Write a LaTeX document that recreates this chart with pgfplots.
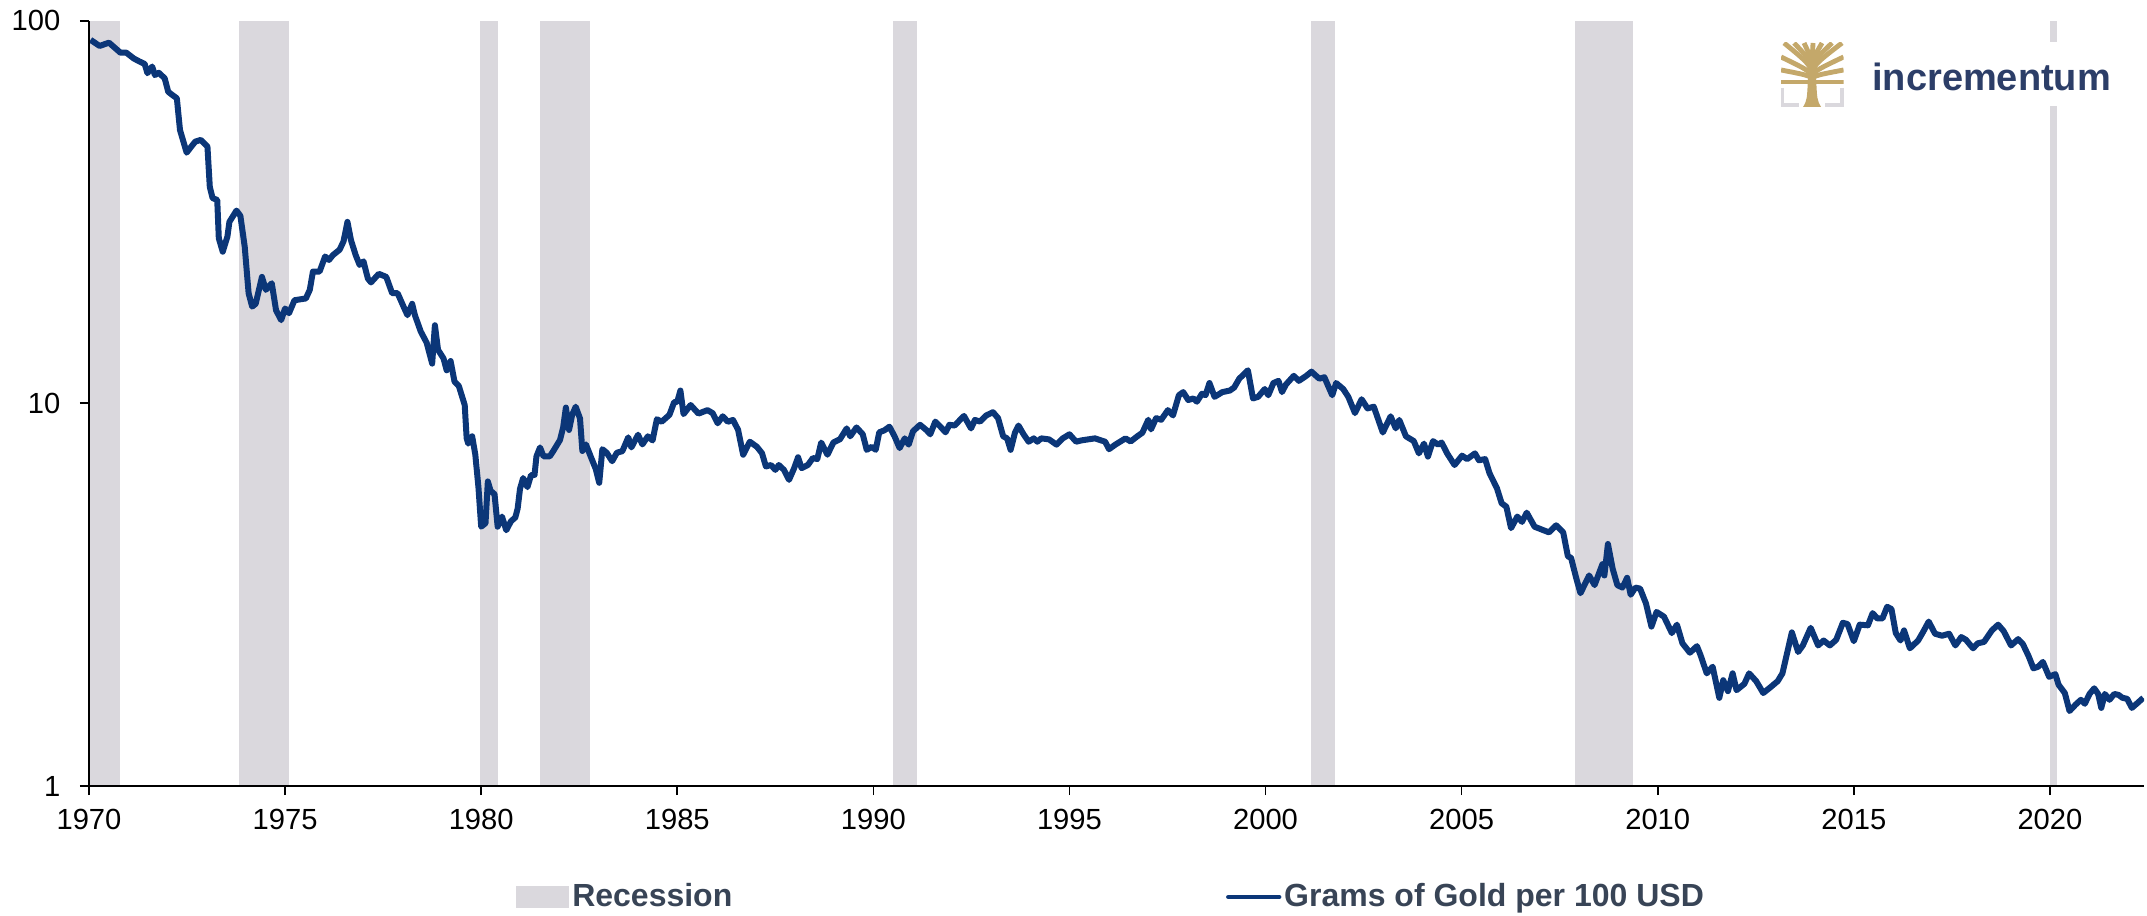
\documentclass[border=0pt]{standalone}
\usepackage{fontspec}
\setmainfont{Liberation Sans}
\usepackage{pgfplots}
\usepackage{pgfplotstable}
\pgfplotsset{compat=1.18}

\definecolor{navyline}{RGB}{11,54,120}
\definecolor{recgray}{RGB}{218,216,221}
\definecolor{legtext}{RGB}{56,68,86}
\definecolor{logoblue}{RGB}{44,62,104}
\definecolor{logogold}{RGB}{196,168,106}

% grams of gold per 100 USD
\pgfplotstableread{
year grams
1970.04 89.1
1970.27 85.9
1970.51 87.6
1970.80 82.5
1970.95 82.5
1971.14 79.7
1971.29 78.2
1971.42 77.1
1971.49 72.9
1971.61 75.9
1971.68 72.1
1971.78 73.1
1971.93 70.7
1972.02 65.2
1972.12 64.0
1972.24 62.7
1972.32 51.8
1972.49 45.2
1972.61 46.9
1972.71 48.3
1972.85 48.8
1973.02 46.9
1973.08 36.8
1973.15 34.4
1973.27 34.0
1973.31 27.0
1973.41 24.9
1973.53 27.3
1973.58 29.8
1973.76 31.9
1973.86 30.9
1973.97 25.7
1974.07 19.4
1974.16 17.9
1974.25 18.2
1974.41 21.4
1974.51 19.8
1974.66 20.6
1974.77 17.5
1974.90 16.5
1975.00 17.7
1975.10 17.2
1975.24 18.6
1975.53 18.8
1975.63 19.8
1975.71 22.1
1975.88 22.1
1976.02 24.2
1976.12 23.7
1976.22 24.4
1976.39 25.2
1976.49 26.5
1976.59 29.8
1976.68 26.7
1976.80 24.4
1976.90 23.0
1977.00 23.5
1977.11 21.2
1977.19 20.7
1977.39 21.8
1977.58 21.4
1977.73 19.4
1977.87 19.4
1978.02 17.9
1978.12 17.0
1978.24 18.2
1978.31 17.0
1978.46 15.4
1978.61 14.4
1978.75 12.7
1978.82 16.0
1978.90 13.8
1979.04 13.1
1979.12 12.2
1979.22 12.9
1979.32 11.4
1979.43 11.1
1979.58 9.9
1979.63 8.1
1979.67 7.85
1979.77 8.2
1979.85 7.35
1979.93 6.04
1980.00 4.76
1980.11 4.86
1980.17 6.25
1980.24 5.91
1980.34 5.79
1980.42 4.76
1980.53 5.06
1980.64 4.66
1980.76 4.92
1980.87 5.03
1980.93 5.31
1980.99 5.98
1981.07 6.38
1981.18 6.04
1981.27 6.49
1981.36 6.5
1981.41 7.27
1981.50 7.67
1981.59 7.27
1981.75 7.27
1981.84 7.51
1982.01 8.02
1982.09 8.65
1982.16 9.75
1982.24 8.52
1982.32 9.33
1982.41 9.8
1982.52 9.13
1982.58 7.51
1982.67 7.81
1982.81 7.19
1982.92 6.74
1983.01 6.2
1983.09 7.59
1983.20 7.43
1983.34 7.06
1983.46 7.43
1983.60 7.5
1983.75 8.15
1983.83 7.67
1984.00 8.28
1984.11 7.81
1984.25 8.2
1984.37 8.0
1984.48 9.09
1984.60 8.95
1984.80 9.33
1984.92 10.07
1985.00 10.1
1985.08 10.8
1985.16 9.37
1985.34 9.9
1985.54 9.4
1985.77 9.6
1985.90 9.43
1986.03 8.87
1986.16 9.25
1986.29 8.95
1986.42 9.05
1986.55 8.53
1986.68 7.34
1986.85 7.94
1987.03 7.7
1987.16 7.41
1987.26 6.84
1987.39 6.9
1987.50 6.7
1987.59 6.9
1987.72 6.7
1987.85 6.31
1987.98 6.77
1988.08 7.23
1988.17 6.77
1988.33 6.9
1988.46 7.2
1988.57 7.15
1988.67 7.9
1988.83 7.34
1988.98 7.9
1989.15 8.06
1989.32 8.6
1989.41 8.2
1989.57 8.65
1989.73 8.3
1989.83 7.56
1989.96 7.7
1990.06 7.56
1990.15 8.4
1990.28 8.5
1990.41 8.69
1990.54 8.2
1990.67 7.64
1990.80 8.1
1990.90 7.8
1991.01 8.45
1991.19 8.79
1991.36 8.5
1991.45 8.3
1991.58 8.96
1991.71 8.69
1991.84 8.4
1991.94 8.79
1992.07 8.75
1992.31 9.27
1992.49 8.6
1992.59 9.05
1992.72 8.96
1992.88 9.3
1993.05 9.48
1993.18 9.15
1993.31 8.2
1993.41 8.1
1993.50 7.56
1993.61 8.38
1993.70 8.75
1993.83 8.3
1993.96 7.94
1994.09 8.1
1994.18 7.94
1994.28 8.1
1994.48 8.05
1994.67 7.8
1994.83 8.1
1995.00 8.3
1995.17 7.94
1995.30 8.0
1995.65 8.1
1995.91 7.94
1996.01 7.59
1996.17 7.8
1996.43 8.1
1996.56 7.95
1996.73 8.2
1996.86 8.38
1997.01 9.06
1997.08 8.55
1997.21 9.15
1997.34 9.06
1997.51 9.6
1997.64 9.3
1997.79 10.5
1997.90 10.7
1998.03 10.2
1998.16 10.3
1998.25 10.1
1998.38 10.6
1998.47 10.5
1998.57 11.3
1998.70 10.4
1998.90 10.7
1999.09 10.8
1999.20 11.0
1999.33 11.6
1999.55 12.2
1999.68 10.3
1999.81 10.4
1999.98 10.9
2000.07 10.5
2000.20 11.3
2000.33 11.45
2000.42 10.7
2000.52 11.2
2000.72 11.8
2000.85 11.45
2001.04 11.8
2001.17 12.1
2001.37 11.6
2001.50 11.7
2001.70 10.5
2001.80 11.3
2001.98 10.9
2002.11 10.4
2002.28 9.43
2002.45 10.25
2002.60 9.7
2002.76 9.8
2002.99 8.39
2003.19 9.25
2003.32 8.6
2003.41 9.05
2003.58 8.2
2003.78 7.97
2003.91 7.4
2004.04 7.85
2004.14 7.26
2004.27 7.97
2004.40 7.8
2004.49 7.9
2004.63 7.4
2004.82 6.9
2005.01 7.3
2005.14 7.15
2005.34 7.4
2005.44 7.1
2005.60 7.15
2005.71 6.57
2005.90 6.0
2006.02 5.48
2006.14 5.37
2006.26 4.72
2006.42 5.06
2006.54 4.9
2006.66 5.18
2006.86 4.76
2007.04 4.68
2007.23 4.6
2007.41 4.8
2007.59 4.6
2007.71 3.98
2007.79 3.95
2007.91 3.53
2008.03 3.19
2008.25 3.55
2008.39 3.35
2008.59 3.8
2008.64 3.55
2008.73 4.29
2008.85 3.7
2008.97 3.35
2009.10 3.3
2009.22 3.5
2009.31 3.16
2009.43 3.3
2009.55 3.28
2009.70 3.0
2009.84 2.61
2009.97 2.85
2010.16 2.77
2010.36 2.51
2010.49 2.64
2010.63 2.36
2010.82 2.23
2011.00 2.32
2011.09 2.2
2011.25 1.97
2011.40 2.05
2011.57 1.70
2011.67 1.89
2011.79 1.77
2011.91 1.97
2012.01 1.78
2012.21 1.85
2012.33 1.97
2012.51 1.88
2012.69 1.75
2012.87 1.81
2013.06 1.88
2013.18 1.97
2013.42 2.52
2013.58 2.24
2013.70 2.33
2013.90 2.59
2014.09 2.33
2014.23 2.4
2014.39 2.33
2014.55 2.41
2014.72 2.67
2014.84 2.65
2015.00 2.39
2015.15 2.64
2015.36 2.63
2015.48 2.83
2015.60 2.74
2015.73 2.74
2015.85 2.94
2015.96 2.9
2016.07 2.51
2016.19 2.4
2016.28 2.55
2016.43 2.29
2016.64 2.4
2016.76 2.52
2016.91 2.69
2017.07 2.5
2017.25 2.47
2017.43 2.5
2017.59 2.33
2017.74 2.45
2017.86 2.41
2018.04 2.29
2018.16 2.36
2018.32 2.38
2018.52 2.55
2018.68 2.64
2018.82 2.54
2019.01 2.33
2019.19 2.42
2019.31 2.35
2019.46 2.18
2019.58 2.03
2019.70 2.05
2019.82 2.11
2019.98 1.93
2020.14 1.96
2020.22 1.84
2020.38 1.75
2020.50 1.57
2020.65 1.63
2020.79 1.68
2020.89 1.64
2021.01 1.74
2021.13 1.80
2021.23 1.74
2021.31 1.60
2021.40 1.74
2021.52 1.68
2021.64 1.74
2021.75 1.73
2021.85 1.70
2021.97 1.69
2022.09 1.60
2022.24 1.65
2022.38 1.70
}\goldtable

\begin{document}
\begin{tikzpicture}
\path[use as bounding box] (-31.15pt,-45.5pt) rectangle (720.3pt,275.1pt);
\begin{axis}[
  at={(0pt,0pt)}, anchor=south west, scale only axis,
  width=719.25pt, height=267.86pt,
  xmin=1970, xmax=2022.4,
  ymode=log, ymin=1, ymax=100,
  axis x line*=bottom, axis y line*=left,
  axis line style={black, line width=0.6pt},
  tick style={black, line width=0.6pt},
  major tick length=3.2pt, tick align=outside,
  xtick={1970,1975,...,2020},
  ytick={1,10,100}, yticklabels={1,10,100},
  yminorticks=false,
  /pgf/number format/assume math mode=true,
  /pgf/number format/1000 sep={},
  tick label style={font=\fontsize{10.2}{12}\selectfont, text=black},
  xticklabel style={yshift=-1.5pt},
  yticklabel style={xshift=-3.3pt},
  axis on top,
  legend columns=2,
  legend style={at={(0.4976,-0.145)}, anchor=center, draw=none, fill=none,
    font=\bfseries\fontsize{11.2}{13}\selectfont, text=legtext,
    nodes={inner xsep=1pt},
    /tikz/every even column/.append style={column sep=171.8pt}},
]
  % recession periods
  \addplot[fill=recgray, draw=none,
    legend image code/.code={\fill[recgray] (0pt,-3.85pt) rectangle (18.55pt,3.85pt);}]
    coordinates {(1969.9,1) (1969.9,100) (1970.78,100) (1970.78,1)};
  \addlegendentry{Recession}
  \addplot[fill=recgray, draw=none, forget plot]
    coordinates {(1973.82,1) (1973.82,100) (1975.10,100) (1975.10,1)};
  \addplot[fill=recgray, draw=none, forget plot]
    coordinates {(1979.97,1) (1979.97,100) (1980.44,100) (1980.44,1)};
  \addplot[fill=recgray, draw=none, forget plot]
    coordinates {(1981.50,1) (1981.50,100) (1982.78,100) (1982.78,1)};
  \addplot[fill=recgray, draw=none, forget plot]
    coordinates {(1990.49,1) (1990.49,100) (1991.10,100) (1991.10,1)};
  \addplot[fill=recgray, draw=none, forget plot]
    coordinates {(2001.15,1) (2001.15,100) (2001.78,100) (2001.78,1)};
  \addplot[fill=recgray, draw=none, forget plot]
    coordinates {(2007.90,1) (2007.90,100) (2009.36,100) (2009.36,1)};
  \addplot[fill=recgray, draw=none, forget plot]
    coordinates {(2020.00,1) (2020.00,100) (2020.19,100) (2020.19,1)};

  \addplot[navyline, line width=2.1pt, line join=round, mark=none,
    legend image code/.code={\draw[navyline, line width=1.5pt, line cap=round] (0.7pt,0pt) -- (18.55pt,0pt);}]
    table[x=year, y=grams] {\goldtable};
  \addlegendentry{Grams of Gold per 100 USD}
\end{axis}

% logo, in pixel units of the reference
\begin{scope}[x=0.35pt, y=-0.35pt, shift={(-31.15pt,275.1pt)}]
  \fill[white] (1768,42) rectangle (2122,106);
  \draw[recgray, line width=1.3pt] (1782.5,88) -- (1782.5,105) -- (1799,105);
  \draw[recgray, line width=1.3pt] (1842,88) -- (1842,105) -- (1825,105);
  \fill[logogold] (1803,107) .. controls (1807,100) .. (1808,76) -- (1816,76)
    .. controls (1817,100) .. (1821,107) -- cycle;
  \begin{scope}
    \clip (1781,43) rectangle (1843.5,90);
    \foreach \tx/\ty/\cy in {1781/82/82,1781/70/76,1781/57/72,1784/43/66,1794/43/62,
        1804/43/60,1813/43/60,1822/43/60,1832/43/62,1842/43/66,1843.5/57/72,1843.5/70/76,1843.5/82/82}
      \draw[logogold, line width=1.7pt] (1812,82) .. controls (1812,\cy) .. (\tx,\ty);
  \end{scope}
  \node[anchor=base west, inner sep=0pt, font=\bfseries\fontsize{13.3}{15}\selectfont,
    text=logoblue] at (1871.7,90.7) {incrementum};
\end{scope}
\end{tikzpicture}
\end{document}
